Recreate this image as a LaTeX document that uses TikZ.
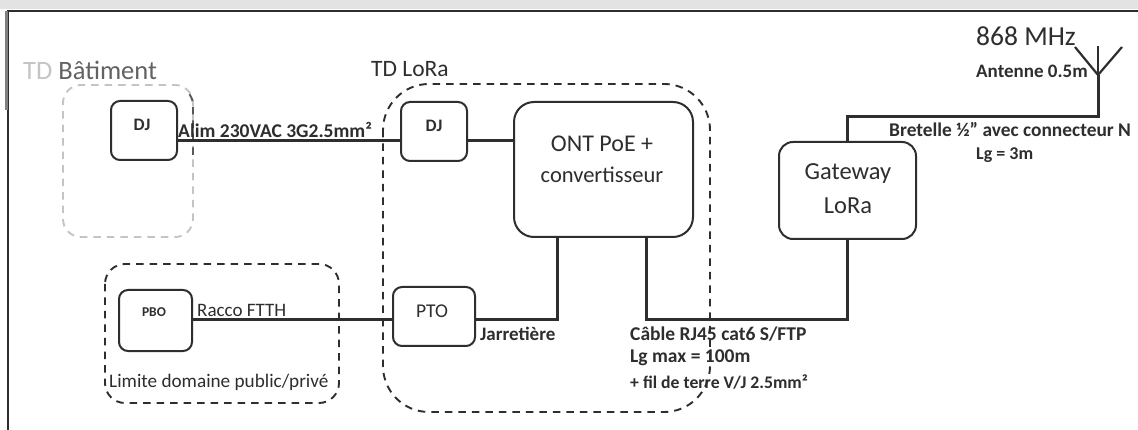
\documentclass[tikz,border=0pt]{standalone}
\usepackage{fontspec}
\setmainfont{Carlito}
\definecolor{ink}{HTML}{2E2E2E}
\definecolor{pale}{HTML}{C4C4C4}
\newcommand{\fs}[1]{\fontsize{#1}{#1}\selectfont}
\tikzset{
  x=1pt,y=-1pt,
  box/.style={draw=ink,line width=2pt,rounded corners=#1,anchor=north west,inner sep=0pt},
  box/.default=10pt,
  wire/.style={draw=ink,line width=3pt},
  zone/.style={draw=ink,line width=1.9pt,dash pattern=on 7.5pt off 6pt},
  palezone/.style={draw=pale,line width=1.9pt,dash pattern=on 7.5pt off 6pt},
  lbl/.style={text=ink,inner sep=0pt,anchor=west},
  ctr/.style={text=ink,inner sep=0pt,anchor=center},
}
\begin{document}
\begin{tikzpicture}
\useasboundingbox (0,0) rectangle (1138,430);
\fill[white] (0,0) rectangle (1138,430);
\fill[gray!22] (0,0) rectangle (1138,9);
\draw[ink,line width=1.5pt] (1138,11) -- (8,11) -- (8,430);
\draw[gray,line width=3pt] (6,11) -- (6,110);

% dashed zones
\draw[palezone,rounded corners=18pt] (193,120) -- (193,85) -- (63,85) -- (63,237) -- (193,237) -- (193,120);
\draw[zone,draw=ink!80] (193,155) -- (193,105) .. controls (193,100) and (191,96) .. (188,92);
\draw[zone,rounded corners=46pt] (383,84) rectangle (710,412);
\draw[zone,rounded corners=20pt] (105,264) rectangle (339,403);

% boxes
\node[box=9pt,minimum width=66pt,minimum height=59pt] (dja) at (110,100) {};
\node[box=9pt,minimum width=66pt,minimum height=59pt] (djb) at (400,101) {};
\node[box=20pt,minimum width=179pt,minimum height=135pt] (ont) at (513,101) {};
\node[box=9pt,minimum width=82pt,minimum height=59pt] (pto) at (392,286) {};
\node[box=9pt,minimum width=73pt,minimum height=61pt] (pbo) at (118,289) {};
\node[box=14pt,minimum width=137pt,minimum height=97pt] (gw) at (778,141) {};

% box texts
\node[ctr,font=\fs{17.5}\bfseries] (tdja) at (142,125) {DJ};
\node[ctr,font=\fs{17.5}\bfseries] (tdjb) at (434,126) {DJ};
\node[ctr,font=\fs{24}] (tonta) at (602,144) {ONT PoE +};
\node[ctr,font=\fs{22.5}] (tontb) at (602,175) {convertisseur};
\node[ctr,font=\fs{19.5}] (tpto) at (432,311) {PTO};
\node[ctr,font=\fs{13.5}\bfseries] (tpbo) at (154,312) {PBO};
\node[ctr,font=\fs{24.5}] (tgwa) at (848,174) {Gateway};
\node[ctr,font=\fs{24.5}] (tgwb) at (848,206) {LoRa};

% connectors
\coordinate (antfoot) at (1098,75);
\coordinate (anttip) at (1098,46);
\coordinate (antl) at (1075,47);
\coordinate (antr) at (1122,47);
\draw[wire] (dja.east |- 0,141) -- (djb.west |- 0,141);
\draw[wire] (djb.east |- 0,141) -- (ont.west |- 0,141);
\draw[wire] (pbo.east |- 0,320) -- (pto.west |- 0,320);
\draw[wire] (pto.east |- 0,320) -- (557,320) -- (557,0 |- ont.south);
\draw[wire] (646,0 |- ont.south) -- (646,320) -- (847,320) -- (847,0 |- gw.south);
\draw[wire] (847,0 |- gw.north) -- (847,117) -- (1098,117) -- (antfoot);
\draw[ink,line width=2.2pt] (antfoot) -- (anttip);
\draw[ink,line width=2.2pt] (antl) -- (antfoot) -- (antr);

% labels
\node[lbl,font=\fs{26.5}] (tbat) at (23,70) {\textcolor{pale}{TD} \textcolor{ink!75}{Bâtiment}};
\node[lbl,font=\fs{23.5}] (tlora) at (371,69) {TD LoRa};
\node[lbl,font=\fs{19.5}\bfseries] (alim) at (178,130) {Alim 230VAC 3G2.5mm²};
\node[lbl,font=\fs{19}] (racco) at (197,310) {Racco FTTH};
\node[lbl,font=\fs{19.2}] (limite) at (109,382) {Limite domaine public/privé};
\node[lbl,font=\fs{19}\bfseries] (jarr) at (480,334) {Jarretière};
\node[lbl,font=\fs{19.5}\bfseries] (cable) at (630,334) {Câble RJ45 cat6 S/FTP};
\node[lbl,font=\fs{19.5}\bfseries] (lgmax) at (630,358) {Lg max = 100m};
\node[lbl,font=\fs{17.7}\bfseries] (fil) at (630,382) {+ fil de terre V/J 2.5mm²};
\node[lbl,font=\fs{27.5}] (mhz) at (976,36) {868 MHz};
\node[lbl,font=\fs{19}\bfseries] (ant) at (976,71) {Antenne 0.5m};
\node[lbl,font=\fs{19.4}\bfseries] (bret) at (889,130) {Bretelle ½'' avec connecteur N};
\node[lbl,font=\fs{18}\bfseries] (lg) at (976,155) {Lg = 3m};
\end{tikzpicture}
\end{document}
